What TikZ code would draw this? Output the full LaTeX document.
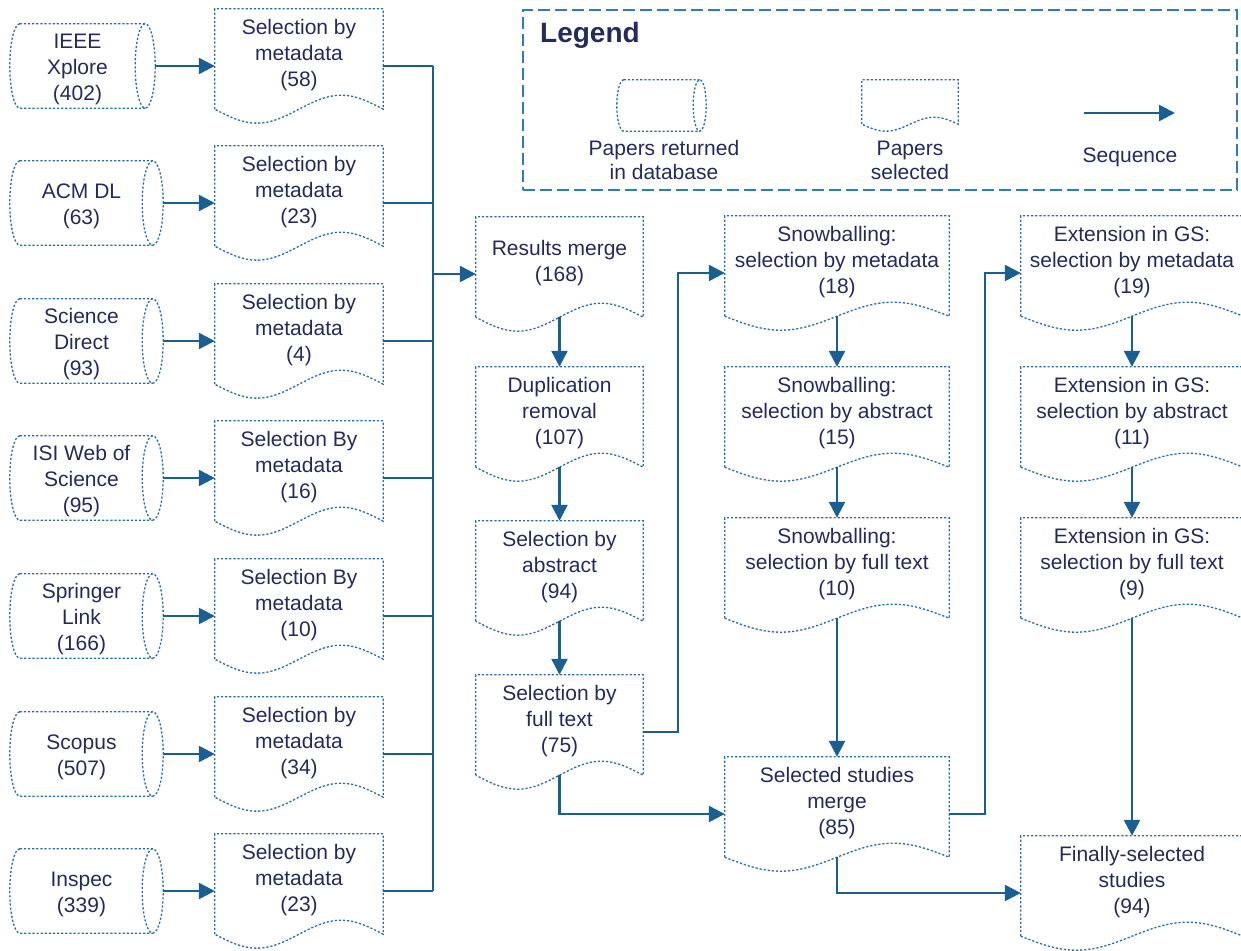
\documentclass[tikz,border=0pt]{standalone}
\usepackage{fontspec}
\setmainfont{Liberation Sans}
\usetikzlibrary{arrows.meta,calc}
\definecolor{navy}{HTML}{232A5C}
\definecolor{lineblue}{HTML}{1B5E92}
\definecolor{shapeblue}{HTML}{2A6DA6}
\definecolor{legblue}{HTML}{2E7CC0}

\newcommand\dt[1]{\raisebox{0pt}[\height][\dimexpr\depth+22pt\relax]{\begin{tabular}{@{}c@{}}#1\end{tabular}}}
\newcommand\ct[1]{\raisebox{0pt}[\dimexpr\height+6pt\relax][\depth]{\begin{tabular}{@{}c@{\hspace{10pt}}}#1\end{tabular}}}

\newcommand\docoutline[2]{%
  \draw[dotline] let \p1=(#1.south west), \p2=(#1.north east), \n1={(\x2-\x1)/4} in
    ({\x1},{\y1+#2pt}) -- (\x1,\y2) -- (\x2,\y2) -- ({\x2},{\y1+#2pt})
    sin ({\x2-\n1},{\y1+2*#2pt}) cos ({\x2-2*\n1},{\y1+#2pt})
    sin ({\x1+\n1},{\y1}) cos ({\x1},{\y1+#2pt});}

\newcommand\cyloutline[3]{%
  \draw[dotline] let \p1=(#1.south west), \p2=(#1.north east) in
    ({\x1+#2pt},\y2) -- ({\x2-#3pt},\y2)
    ({\x1+#2pt},\y2) arc[start angle=90, end angle=270, x radius=#2pt, y radius={(\y2-\y1)/2}]
    -- ({\x2-#3pt},\y1)
    ({\x2-#3pt},{(\y1+\y2)/2}) ellipse [x radius=#3pt, y radius={(\y2-\y1)/2}];}

\tikzset{
  every node/.style={text=navy},
  nfont/.style={font=\fontsize{21}{26}\selectfont},
  docn/.style={nfont, inner sep=0pt, minimum height=114pt},
  cyln/.style={nfont, inner sep=0pt, minimum height=84pt},
  dotline/.style={shapeblue, line width=1.3pt, dash pattern=on 2.2pt off 1.9pt},
  link/.style={lineblue, line width=2.4pt},
  flow/.style={link, -{Triangle[length=16pt,width=16pt]}},
}

\begin{document}
\begin{tikzpicture}[x=1pt,y=-1pt]
\useasboundingbox (0,0) rectangle (1241,950);

% ---------- legend ----------
\node[draw=legblue, line width=2pt, dash pattern=on 12pt off 5pt, minimum width=714pt, minimum height=180pt, inner sep=0pt] (legendbox) at (880,100) {};
\node[anchor=base west, font=\fontsize{28}{30}\selectfont\bfseries, inner sep=0pt] (legt) at (540,43) {Legend};
\node[cyln, minimum width=89pt, minimum height=51pt] (lc) at (661.5,105.5) {};
\cyloutline{lc}{7}{6.5}
\node[docn, minimum width=96pt, minimum height=51pt] (ld) at (910,105.5) {};
\docoutline{ld}{7}
\coordinate (la) at (1084,113);
\coordinate (lb) at (1175,113);
\draw[flow] (la) -- (lb);
\node[font=\fontsize{21}{24}\selectfont, align=center, inner sep=0pt] (lct) at (664,160) {Papers returned\\in database};
\node[font=\fontsize{21}{24}\selectfont, align=center, inner sep=0pt] (ldt) at (910,160) {Papers\\selected};
\node[font=\fontsize{21}{24}\selectfont, inner sep=0pt] (lat) at (1130,157) {Sequence};

% ---------- databases ----------
\node[cyln, minimum width=145pt] (c1) at (82.5,66) {\ct{IEEE\\Xplore\\(402)}};
\cyloutline{c1}{10}{10}
\node[cyln, minimum width=153pt] (c2) at (86.5,203) {\ct{ACM DL\\(63)}};
\cyloutline{c2}{10}{10.5}
\node[cyln, minimum width=153pt] (c3) at (86.5,341) {\ct{Science\\Direct\\(93)}};
\cyloutline{c3}{10}{10.5}
\node[cyln, minimum width=153pt] (c4) at (86.5,478) {\ct{ISI Web of\\Science\\(95)}};
\cyloutline{c4}{10}{10.5}
\node[cyln, minimum width=153pt] (c5) at (86.5,616) {\ct{Springer\\Link\\(166)}};
\cyloutline{c5}{10}{10.5}
\node[cyln, minimum width=153pt] (c6) at (86.5,754) {\ct{Scopus\\(507)}};
\cyloutline{c6}{10}{10.5}
\node[cyln, minimum width=153pt] (c7) at (86.5,891) {\ct{Inspec\\(339)}};
\cyloutline{c7}{10}{10.5}

% ---------- selection by metadata ----------
\node[docn, minimum width=168pt] (d1) at (299,66) {\dt{Selection by\\metadata\\(58)}};
\node[docn, minimum width=168pt] (d2) at (299,203) {\dt{Selection by\\metadata\\(23)}};
\node[docn, minimum width=168pt] (d3) at (299,341) {\dt{Selection by\\metadata\\(4)}};
\node[docn, minimum width=168pt] (d4) at (299,478) {\dt{Selection By\\metadata\\(16)}};
\node[docn, minimum width=168pt] (d5) at (299,616) {\dt{Selection By\\metadata\\(10)}};
\node[docn, minimum width=168pt] (d6) at (299,754) {\dt{Selection by\\metadata\\(34)}};
\node[docn, minimum width=168pt] (d7) at (299,891) {\dt{Selection by\\metadata\\(23)}};
\foreach \i in {1,...,7}{\docoutline{d\i}{14}}

% ---------- main column ----------
\node[docn, minimum width=167pt] (res) at (559.5,274) {\dt{Results merge\\(168)}};
\node[docn, minimum width=167pt] (dup) at (559.5,424) {\dt{Duplication\\removal\\(107)}};
\node[docn, minimum width=167pt] (abs) at (559.5,578) {\dt{Selection by\\abstract\\(94)}};
\node[docn, minimum width=167pt] (full) at (559.5,732) {\dt{Selection by\\full text\\(75)}};
\foreach \nm in {res,dup,abs,full}{\docoutline{\nm}{14}}

% ---------- snowballing ----------
\node[docn, minimum width=224pt] (sm) at (837,273) {\dt{Snowballing:\\selection by metadata\\(18)}};
\node[docn, minimum width=224pt] (sa) at (837,424) {\dt{Snowballing:\\selection by abstract\\(15)}};
\node[docn, minimum width=224pt] (sf) at (837,575) {\dt{Snowballing:\\selection by full text\\(10)}};
\node[docn, minimum width=224pt] (merge) at (837,814) {\dt{Selected studies\\merge\\(85)}};
\foreach \nm in {sm,sa,sf,merge}{\docoutline{\nm}{14}}

% ---------- extension in GS ----------
\node[docn, minimum width=222pt] (em) at (1132,273) {\dt{Extension in GS:\\selection by metadata\\(19)}};
\node[docn, minimum width=222pt] (ea) at (1132,424) {\dt{Extension in GS:\\selection by abstract\\(11)}};
\node[docn, minimum width=222pt] (ef) at (1132,575) {\dt{Extension in GS:\\selection by full text\\(9)}};
\node[docn, minimum width=222pt] (fin) at (1132,893) {\dt{Finally-selected\\studies\\(94)}};
\foreach \nm in {em,ea,ef,fin}{\docoutline{\nm}{14}}

% ---------- connectors ----------
\foreach \i in {1,...,7}{\draw[flow] (c\i.east) -- (d\i.west);}
\coordinate (bus) at (433,0);
\foreach \i in {1,...,7}{\draw[link] (d\i.east) -- (d\i.east -| bus);}
\draw[link] (d1.east -| bus) -- (d7.east -| bus);
\draw[flow] (res.west -| bus) -- (res.west);

\draw[flow] ([yshift=14pt]res.south) -- (dup.north);
\draw[flow] ([yshift=14pt]dup.south) -- (abs.north);
\draw[flow] ([yshift=14pt]abs.south) -- (full.north);
\draw[flow] (full.east) -- ++(35,0) |- (sm.west);
\draw[flow] ([yshift=14pt]full.south) |- (merge.west);

\draw[flow] ([yshift=14pt]sm.south) -- (sa.north);
\draw[flow] ([yshift=14pt]sa.south) -- (sf.north);
\draw[flow] ([yshift=14pt]sf.south) -- (merge.north);
\draw[flow] (merge.east) -- ++(36,0) |- (em.west);
\draw[flow] ([yshift=14pt]merge.south) |- (fin.west);

\draw[flow] ([yshift=14pt]em.south) -- (ea.north);
\draw[flow] ([yshift=14pt]ea.south) -- (ef.north);
\draw[flow] ([yshift=14pt]ef.south) -- (fin.north);
\end{tikzpicture}
\end{document}
